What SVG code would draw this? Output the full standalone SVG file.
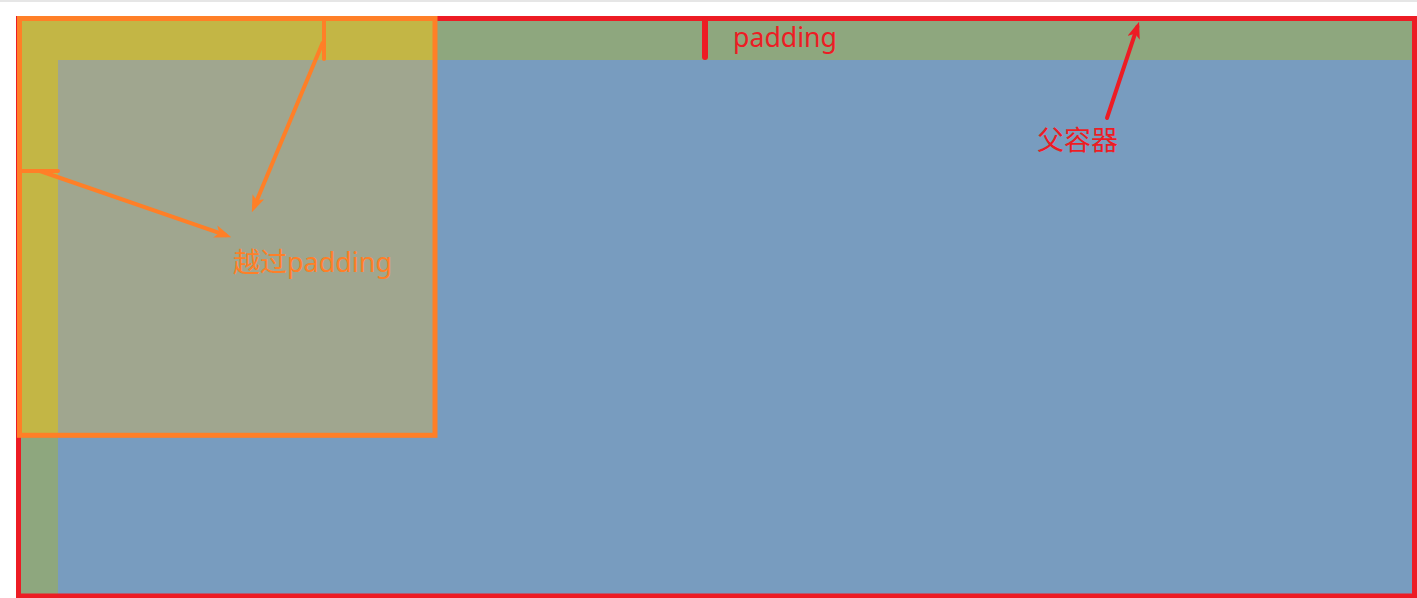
<svg xmlns="http://www.w3.org/2000/svg" width="1417" height="598" viewBox="0 0 1417 598">
  <style>
    .lbl { font-family: "Microsoft YaHei", "Noto Sans", "Noto Sans CJK SC", sans-serif; font-size: 27px; }
    .red { fill: #ed1c24; }
    .orange { fill: #ff7f27; }
    .redline { stroke: #ed1c24; stroke-width: 4; fill: none; }
    .orangeline { stroke: #ff7f27; stroke-width: 4; fill: none; }
  </style>
  <defs>
    <marker id="ahRed" viewBox="0 0 16 12" refX="11" refY="6" markerWidth="17" markerHeight="13" markerUnits="userSpaceOnUse" orient="auto">
      <path d="M0,0 L16,6 L0,12 L4,6 Z" fill="#ed1c24"/>
    </marker>
    <marker id="ahOrange" viewBox="0 0 16 12" refX="11" refY="6" markerWidth="17" markerHeight="13" markerUnits="userSpaceOnUse" orient="auto">
      <path d="M0,0 L16,6 L0,12 L4,6 Z" fill="#ff7f27"/>
    </marker>
  </defs>
  <rect x="0" y="0" width="1417" height="598" fill="#ffffff"/>
  <rect x="0" y="0" width="1417" height="2" fill="#e6e6e6"/>

  <g id="parent">
    <rect x="21" y="21" width="1391" height="573" fill="#8ea77e"/>
    <rect x="58" y="60" width="1354" height="534" fill="#789cbf"/>
  </g>
  <g id="child">
    <rect x="21" y="21" width="412" height="412" fill="#c3b645"/>
    <rect x="58" y="60" width="375" height="373" fill="#a0a68f"/>
  </g>
  <g id="parent-border">
    <rect x="18.5" y="18.5" width="1396" height="577.5" fill="none" stroke="#ed1c24" stroke-width="5"/>
  </g>
  <g id="child-border">
    <rect x="19.5" y="18.5" width="415.5" height="416.8" fill="none" stroke="#ff7f27" stroke-width="5"/>
  </g>

  <g id="connectors">
    <line class="redline" style="stroke-width:6" x1="705" y1="20" x2="705" y2="57" stroke-linecap="round"/>
    <line class="redline" x1="1107" y1="118" x2="1137.4" y2="26.7" stroke-linecap="round" marker-end="url(#ahRed)"/>
    <line class="orangeline" x1="324" y1="20" x2="324" y2="59" stroke-linecap="round"/>
    <line class="orangeline" x1="20" y1="171" x2="58" y2="171" stroke-linecap="round"/>
    <line class="orangeline" x1="323" y1="42" x2="253.9" y2="207.4" marker-end="url(#ahOrange)"/>
    <line class="orangeline" x1="40" y1="171" x2="226.3" y2="235.4" marker-end="url(#ahOrange)"/>
  </g>

  <g id="label-padding">
    <text class="lbl red" x="733" y="47" textLength="104" lengthAdjust="spacingAndGlyphs">padding</text>
  </g>
  <g id="label-parent">
    <text class="lbl red" x="1037" y="150" textLength="81" lengthAdjust="spacingAndGlyphs">父容器</text>
  </g>
  <g id="label-child">
    <text class="lbl orange" x="233" y="272" textLength="159" lengthAdjust="spacingAndGlyphs">越过padding</text>
  </g>
</svg>
